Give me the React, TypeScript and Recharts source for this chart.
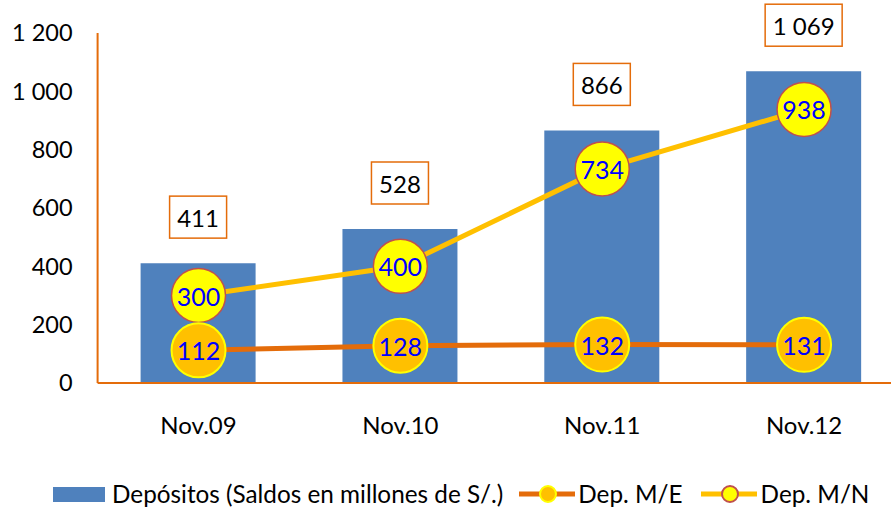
import { Bar, ComposedChart, LabelList, Line, XAxis, YAxis } from "recharts";

const periods = ["Nov.09", "Nov.10", "Nov.11", "Nov.12"];
const depositos = [411, 528, 866, 1069];
const depME = [112, 128, 132, 131];
const depMN = [300, 400, 734, 938];
const yTicks = [0, 200, 400, 600, 800, 1000, 1200];
const seriesNames = ["Depósitos (Saldos en millones de S/.)", "Dep. M/E", "Dep. M/N"];

const data = periods.map((p, i) => ({
  period: p,
  depositos: depositos[i],
  me: depME[i],
  mn: depMN[i],
}));

const FONT = "Lato, 'Open Sans', sans-serif";
const BAR_BLUE = "#4F81BD";
const ORANGE = "#E46C0A";
const GOLD = "#FFC000";
const YELLOW = "#FFFF00";
const RED_EDGE = "#C0504D";
const LABEL_BLUE = "#0000FF";

// 1069 -> "1 069"
const fmt = (v: number) => String(v).replace(/\B(?=(\d{3})+(?!\d))/g, " ");

function BoxLabel(props: any) {
  const { x, y, width, value } = props;
  const text = fmt(value);
  const w = text.length * 10 + 27;
  const h = 42;
  const cx = x + width / 2;
  const cy = y - 46;
  return (
    <g>
      <rect x={cx - w / 2} y={cy - h / 2} width={w} height={h} fill="#fff" stroke={ORANGE} strokeWidth={1.5} />
      <text x={cx} y={cy} textAnchor="middle" dominantBaseline="central" fontSize={24} fill="#000">
        {text}
      </text>
    </g>
  );
}

function CircleLabel(props: any) {
  const { x, y, value } = props;
  return (
    <text x={x} y={y} textAnchor="middle" dominantBaseline="central" fontSize={25} fill={LABEL_BLUE}>
      {fmt(value)}
    </text>
  );
}

function LegendLine({ line, fill, stroke }: { line: string; fill: string; stroke: string }) {
  return (
    <svg width={56} height={20} style={{ display: "block" }}>
      <line x1={0} y1={10} x2={56} y2={10} stroke={line} strokeWidth={5} strokeLinecap="round" />
      <circle cx={29} cy={10} r={8} fill={fill} stroke={stroke} strokeWidth={2} />
    </svg>
  );
}

export default function App() {
  return (
    <div
      style={{
        position: "absolute",
        left: 0,
        top: 0,
        width: 891,
        height: 507,
        overflow: "hidden",
        background: "#fff",
        fontFamily: FONT,
      }}
    >
      <ComposedChart
        width={910}
        height={470}
        data={data}
        margin={{ top: 33, right: 5, left: 0, bottom: 0 }}
        style={{ fontFamily: FONT }}
      >
        <XAxis
          dataKey="period"
          height={87}
          axisLine={{ stroke: ORANGE, strokeWidth: 2 }}
          tickLine={false}
          tickSize={0}
          tickMargin={34}
          tick={{ fontSize: 24, fill: "#000" }}
        />
        <YAxis
          width={97.6}
          domain={[0, 1200]}
          ticks={yTicks}
          tickFormatter={fmt}
          axisLine={{ stroke: ORANGE, strokeWidth: 2 }}
          tickLine={false}
          tickSize={0}
          tickMargin={25}
          tick={{ fontSize: 23.5, fill: "#000" }}
        />
        <Bar dataKey="depositos" name={seriesNames[0]} fill={BAR_BLUE} barSize={115} isAnimationActive={false}>
          <LabelList dataKey="depositos" content={BoxLabel} />
        </Bar>
        <Line
          type="linear"
          dataKey="mn"
          name={seriesNames[2]}
          stroke={GOLD}
          strokeWidth={5}
          dot={{ r: 27, fill: YELLOW, stroke: RED_EDGE, strokeWidth: 1.5 }}
          activeDot={false}
          isAnimationActive={false}
        >
          <LabelList dataKey="mn" content={CircleLabel} />
        </Line>
        <Line
          type="linear"
          dataKey="me"
          name={seriesNames[1]}
          stroke={ORANGE}
          strokeWidth={5}
          dot={{ r: 27, fill: GOLD, stroke: YELLOW, strokeWidth: 2 }}
          activeDot={false}
          isAnimationActive={false}
        >
          <LabelList dataKey="me" content={CircleLabel} />
        </Line>
      </ComposedChart>

      <div
        style={{
          position: "absolute",
          left: 53,
          top: 482,
          height: 24,
          lineHeight: "24px",
          display: "flex",
          alignItems: "center",
          fontSize: 24.3,
          color: "#000",
          whiteSpace: "nowrap",
        }}
      >
        <div style={{ width: 52, height: 15, background: BAR_BLUE, marginRight: 7 }} />
        <span>{seriesNames[0]}</span>
        <div style={{ marginLeft: 16, marginRight: 3 }}>
          <LegendLine line={ORANGE} fill={GOLD} stroke={YELLOW} />
        </div>
        <span>{seriesNames[1]}</span>
        <div style={{ marginLeft: 18, marginRight: 4 }}>
          <LegendLine line={GOLD} fill={YELLOW} stroke={RED_EDGE} />
        </div>
        <span>{seriesNames[2]}</span>
      </div>
    </div>
  );
}
